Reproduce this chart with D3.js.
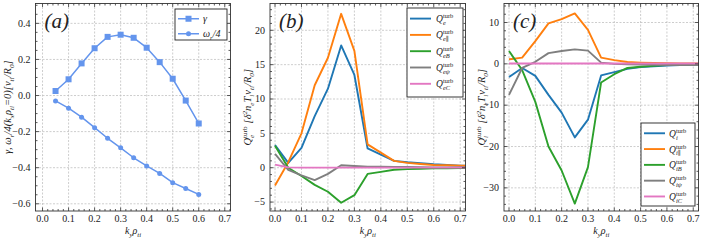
<!DOCTYPE html>
<html>
<head>
<meta charset="utf-8">
<script src="https://cdn.jsdelivr.net/npm/d3@7"></script>
<style>
  body { margin: 0; background: #fff; }
  svg text { fill: #222; }
</style>
</head>
<body>
<div id="chart"></div>
<script>
// panel (a): growth rate and frequency
var kyA = [0.05, 0.1, 0.15, 0.2, 0.25, 0.3, 0.35, 0.4, 0.45, 0.5, 0.55, 0.6];
var gammaA = [0.025, 0.09, 0.178, 0.262, 0.325, 0.337, 0.32, 0.265, 0.185, 0.093, -0.028, -0.155];
var omegaA = [-0.03, -0.07, -0.12, -0.178, -0.237, -0.29, -0.345, -0.39, -0.432, -0.483, -0.515, -0.548];

// panels (b) and (c): fluxes
var kyB = [0, 0.05, 0.1, 0.15, 0.2, 0.25, 0.3, 0.35, 0.4, 0.45, 0.5, 0.55, 0.6, 0.65, 0.7, 0.75];
var qe     = [3.3, 0.7, 2.9, 7.5, 11.5, 17.8, 13.5, 2.8, 1.9, 1.0, 0.8, 0.65, 0.5, 0.4, 0.3, 0.25];
var qePar  = [-2.6, 0.8, 5.0, 12.0, 16.0, 22.4, 17.0, 3.4, 2.2, 1.0, 0.7, 0.55, 0.4, 0.35, 0.3, 0.25];
var qeB    = [3.2, 0.0, -1.2, -2.5, -3.5, -5.1, -4.0, -0.9, -0.6, -0.3, -0.2, -0.15, -0.1, -0.08, -0.05, -0.05];
var qePsi  = [2.0, -0.3, -1.1, -1.8, -0.9, 0.35, 0.25, 0.15, 0.15, 0.12, 0.1, 0.08, 0.05, 0.05, 0.05, 0.05];
var qeC    = [0.45, 0.05, 0.02, 0.02, 0.02, 0.02, 0.02, 0.02, 0.02, 0.02, 0.02, 0.02, 0.02, 0.02, 0.02, 0.02];

var qi     = [-3.2, -1.0, -2.9, -7.5, -11.8, -17.8, -13.5, -2.8, -2.0, -1.2, -0.8, -0.6, -0.4, -0.3, -0.2, -0.2];
var qiPar  = [1.1, 1.5, 5.5, 9.8, 10.8, 12.2, 8.2, 1.5, 0.9, 0.45, 0.3, 0.2, 0.15, 0.1, 0.1, 0.1];
var qiB    = [3.1, -1.5, -9.2, -20.0, -25.8, -33.8, -25.0, -4.5, -2.5, -1.0, -0.7, -0.5, -0.3, -0.25, -0.2, -0.2];
var qiPsi  = [-7.5, -1.0, 0.5, 2.6, 3.1, 3.5, 3.2, 0.3, 0.0, -0.1, -0.2, -0.25, -0.3, -0.3, -0.3, -0.3];
var qiC    = [0.1, 0.1, 0.1, 0.1, 0.1, 0.1, 0.1, 0.1, 0.1, 0.1, 0.1, 0.1, 0.1, 0.1, 0.1, 0.1];

var xTicks = [0, 0.1, 0.2, 0.3, 0.4, 0.5, 0.6, 0.7];
var yTicksA = [-0.6, -0.4, -0.2, 0, 0.2, 0.4];
var yTicksB = [-5, 0, 5, 10, 15, 20];
var yTicksC = [-30, -20, -10, 0, 10];

var colors = ["#1f77b4", "#ff7f0e", "#2ca02c", "#7f7f7f", "#e377c2"];
var blueA = "#6495ed";

var width = 705, height = 242;
var plotTop = 3.5, plotBottom = 211;

var svg = d3.select("#chart").append("svg")
  .attr("width", width)
  .attr("height", height)
  .attr("font-family", "'Liberation Serif', 'Times New Roman', 'DejaVu Serif', serif");

var defs = svg.append("defs");

function fmt(v, dec) {
  var s = Math.abs(v).toFixed(dec);
  return (v < -1e-9 ? "\u2212" : "") + s;
}

// rich text: parts = [[text, "n"|"sub"|"sup"]]
function rich(sel, parts, size) {
  var cur = 0;
  parts.forEach(function(p) {
    var shift = p[1] == "sub" ? 0.28 * size : (p[1] == "sup" ? -0.42 * size : 0);
    sel.append("tspan")
      .attr("dy", shift - cur)
      .attr("font-size", p[1] == "n" ? size : size * 0.68)
      .attr("font-style", "italic")
      .text(p[0]);
    cur = shift;
  });
}

// Q with subscript and "turb" superscript stacked above it
function qLabel(sel, sub, size) {
  sel.append("tspan").attr("font-size", size).attr("font-style", "italic").text("Q");
  var s = sel.append("tspan").attr("font-size", size * 0.68).attr("font-style", "italic")
    .attr("dy", 0.3 * size).text(sub);
  var w = s.node().getComputedTextLength();
  sel.append("tspan").attr("font-size", size * 0.68).attr("font-style", "normal")
    .attr("dx", -w).attr("dy", -0.72 * size).text("turb");
}

function panel(opt) {
  var x = d3.scaleLinear().domain(opt.xdom).range([opt.x0, opt.x1]);
  var y = d3.scaleLinear().domain(opt.ydom).range([plotBottom, plotTop]);
  var g = svg.append("g");
  var id = "clip" + opt.name;
  defs.append("clipPath").attr("id", id).append("rect")
    .attr("x", opt.x0).attr("y", plotTop).attr("width", opt.x1 - opt.x0).attr("height", plotBottom - plotTop);

  // grid
  g.selectAll(".gx").data(xTicks).enter().append("line")
    .attr("x1", function(d) { return x(d); }).attr("x2", function(d) { return x(d); })
    .attr("y1", plotTop).attr("y2", plotBottom)
    .attr("stroke", "#b8b8b8").attr("stroke-width", 0.7).attr("stroke-dasharray", "2,1.5");
  g.selectAll(".gy").data(opt.yticks).enter().append("line")
    .attr("y1", function(d) { return y(d); }).attr("y2", function(d) { return y(d); })
    .attr("x1", opt.x0).attr("x2", opt.x1)
    .attr("stroke", "#b8b8b8").attr("stroke-width", 0.7).attr("stroke-dasharray", "2,1.5");

  // series
  var plot = g.append("g").attr("clip-path", "url(#" + id + ")");
  opt.series.forEach(function(s) {
    var pts = s.xs.map(function(k, i) { return [k, s.ys[i]]; });
    plot.append("path").datum(pts)
      .attr("fill", "none").attr("stroke", s.color).attr("stroke-width", s.lw)
      .attr("stroke-linejoin", "round")
      .attr("d", d3.line().x(function(d) { return x(d[0]); }).y(function(d) { return y(d[1]); }));
    if (s.marker == "square") {
      plot.selectAll(null).data(pts).enter().append("rect")
        .attr("x", function(d) { return x(d[0]) - 3; }).attr("y", function(d) { return y(d[1]) - 3; })
        .attr("width", 6).attr("height", 6).attr("fill", s.color);
    } else if (s.marker == "circle") {
      plot.selectAll(null).data(pts).enter().append("circle")
        .attr("cx", function(d) { return x(d[0]); }).attr("cy", function(d) { return y(d[1]); })
        .attr("r", 2.5).attr("fill", s.color);
    }
  });

  // ticks, inward on all sides
  var tk = g.append("g").attr("stroke", "#333").attr("stroke-width", 0.8);
  var xMinor = d3.range(0, 0.7201, 0.02).filter(function(v) { return v >= opt.xdom[0] && v <= opt.xdom[1]; });
  var yMinor = d3.range(Math.ceil(opt.ydom[0] / opt.ymin) * opt.ymin, opt.ydom[1], opt.ymin);
  xMinor.forEach(function(v) {
    var big = xTicks.some(function(t) { return Math.abs(t - v) < 1e-6; });
    var L = big ? 3.5 : 2;
    tk.append("line").attr("x1", x(v)).attr("x2", x(v)).attr("y1", plotBottom).attr("y2", plotBottom - L);
    tk.append("line").attr("x1", x(v)).attr("x2", x(v)).attr("y1", plotTop).attr("y2", plotTop + L);
  });
  yMinor.forEach(function(v) {
    var big = opt.yticks.some(function(t) { return Math.abs(t - v) < 1e-6; });
    var L = big ? 3.5 : 2;
    tk.append("line").attr("y1", y(v)).attr("y2", y(v)).attr("x1", opt.x0).attr("x2", opt.x0 + L);
    tk.append("line").attr("y1", y(v)).attr("y2", y(v)).attr("x1", opt.x1).attr("x2", opt.x1 - L);
  });

  // frame
  g.append("rect").attr("x", opt.x0).attr("y", plotTop)
    .attr("width", opt.x1 - opt.x0).attr("height", plotBottom - plotTop)
    .attr("fill", "none").attr("stroke", "#333").attr("stroke-width", 0.9);

  // tick labels
  g.selectAll(".xl").data(xTicks).enter().append("text")
    .attr("x", function(d) { return x(d); }).attr("y", plotBottom + 11)
    .attr("text-anchor", "middle").attr("font-size", 10)
    .text(function(d) { return fmt(d, 1); });
  g.selectAll(".yl").data(opt.yticks).enter().append("text")
    .attr("x", opt.x0 - 5).attr("y", function(d) { return y(d) + 3.3; })
    .attr("text-anchor", "end").attr("font-size", 10)
    .text(function(d) { return fmt(d, opt.ydec); });

  // x label
  var xl = g.append("text").attr("x", (opt.x0 + opt.x1) / 2).attr("y", 234).attr("text-anchor", "middle");
  rich(xl, [["k", "n"], ["y", "sub"], ["\u03c1", "n"], ["ti", "sub"]], 10);

  // y label
  var yl = g.append("text").attr("text-anchor", "middle")
    .attr("transform", "translate(" + opt.ylx + "," + ((plotTop + plotBottom) / 2) + ")rotate(-90)");
  opt.ylabel(yl);

  // panel letter
  g.append("text").attr("x", opt.x0 + 9).attr("y", plotTop + 24)
    .attr("font-size", 21).attr("font-style", "italic").text(opt.letter);

  return { x: x, y: y, g: g };
}

function legend(g, lx, ly, lw, lh, entries, rowH, drawLabel) {
  g.append("rect").attr("x", lx).attr("y", ly).attr("width", lw).attr("height", lh)
    .attr("fill", "#fff").attr("stroke", "#222").attr("stroke-width", 0.9);
  entries.forEach(function(e, i) {
    var cy = ly + rowH * 0.65 + i * rowH;
    g.append("line").attr("x1", lx + 3).attr("x2", lx + 24).attr("y1", cy).attr("y2", cy)
      .attr("stroke", e.color).attr("stroke-width", e.lw);
    if (e.marker == "square") {
      g.append("rect").attr("x", lx + 13.5 - 3).attr("y", cy - 3).attr("width", 6).attr("height", 6).attr("fill", e.color);
    } else if (e.marker == "circle") {
      g.append("circle").attr("cx", lx + 13.5).attr("cy", cy).attr("r", 2.5).attr("fill", e.color);
    }
    var t = g.append("text").attr("x", lx + 29).attr("y", cy + 3);
    drawLabel(t, e, i);
  });
}

// (a)
var pa = panel({
  name: "a", letter: "(a)", x0: 35.5, x1: 230.5,
  xdom: [-0.027, 0.722], ydom: [-0.64, 0.51], yticks: yTicksA, ymin: 0.05, ydec: 1,
  ylx: 11,
  ylabel: function(t) {
    rich(t, [["\u03b3, \u03c9", "n"], ["r", "sub"], ["/4(k", "n"], ["x", "sub"], ["\u03c1", "n"], ["ti", "sub"],
      ["=0)[v", "n"], ["ti", "sub"], ["/R", "n"], ["0", "sub"], ["]", "n"]], 10.5);
  },
  series: [
    { xs: kyA, ys: gammaA, color: blueA, lw: 1.5, marker: "square" },
    { xs: kyA, ys: omegaA, color: blueA, lw: 1.5, marker: "circle" }
  ]
});
legend(pa.g, 175, 9, 52, 31, [
  { color: blueA, lw: 1.5, marker: "square" },
  { color: blueA, lw: 1.5, marker: "circle" }
], 15, function(t, e, i) {
  t.attr("x", 203);
  if (i == 0) rich(t, [["\u03b3", "n"]], 10);
  else rich(t, [["\u03c9", "n"], ["r", "sub"], ["/4", "n"]], 10);
});

function fluxLabel(t, s) {
  var sz = 10.5;
  qLabel(t, s, sz);
  t.append("tspan").attr("font-size", sz).attr("font-style", "italic").attr("dx", 3).attr("dy", 0.42 * sz).text("[\u03b4");
  rich(t, [["2", "sup"], ["n", "n"], ["e", "sub"], ["T", "n"], ["i", "sub"], ["v", "n"], ["ti", "sub"], ["/R", "n"], ["0", "sub"], ["]", "n"]], sz);
}

// (b)
var subsE = ["e", "e\u2225", "eB", "e\u03c8", "eC"];
var pb = panel({
  name: "b", letter: "(b)", x0: 270, x1: 465.5,
  xdom: [-0.019, 0.72], ydom: [-6.3, 23.9], yticks: yTicksB, ymin: 1, ydec: 0,
  ylx: 251,
  ylabel: function(t) { fluxLabel(t, "e"); },
  series: [qe, qePar, qeB, qePsi, qeC].map(function(v, i) {
    return { xs: kyB, ys: v, color: colors[i], lw: 1.9 };
  })
});
legend(pb.g, 407, 8, 56, 89, colors.map(function(c) { return { color: c, lw: 1.9 }; }), 16.3,
  function(t, e, i) { t.attr("x", 436).attr("y", +t.attr("y") + 0.5); qLabel(t, subsE[i], 9.5); });

// (c)
var subsI = ["i", "i\u2225", "iB", "i\u03c8", "iC"];
var pc = panel({
  name: "c", letter: "(c)", x0: 504, x1: 698.5,
  xdom: [-0.019, 0.72], ydom: [-35.6, 14.6], yticks: yTicksC, ymin: 2, ydec: 0,
  ylx: 485,
  ylabel: function(t) { fluxLabel(t, "i"); },
  series: [qi, qiPar, qiB, qiPsi, qiC].map(function(v, i) {
    return { xs: kyB, ys: v, color: colors[i], lw: 1.9 };
  })
});
legend(pc.g, 641, 123, 54, 83, colors.map(function(c) { return { color: c, lw: 1.9 }; }), 15.8,
  function(t, e, i) { t.attr("x", 669).attr("y", +t.attr("y") + 0.5); qLabel(t, subsI[i], 9.5); });
</script>
</body>
</html>
